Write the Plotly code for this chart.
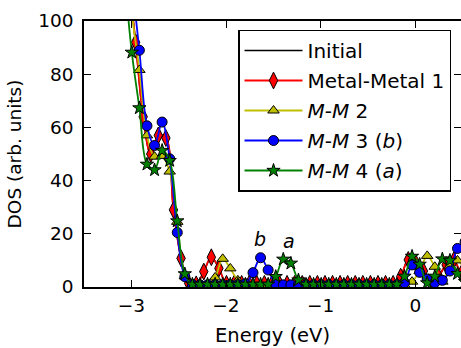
import plotly.graph_objects as go

# ---- data ----
energy = [-3.075, -2.995, -2.915, -2.835, -2.755, -2.675, -2.595, -2.515, -2.435, -2.355,
          -2.275, -2.195, -2.115, -2.035, -1.955, -1.875, -1.795, -1.715, -1.635, -1.555,
          -1.475, -1.395, -1.315, -1.235, -1.155, -1.075, -0.995, -0.915, -0.835, -0.755,
          -0.675, -0.595, -0.515, -0.435, -0.355, -0.275, -0.195, -0.115, -0.035, 0.045,
          0.125, 0.205, 0.285, 0.365, 0.445, 0.525]

energy_mm1 = [-3.035, -2.955, -2.875, -2.795, -2.715, -2.635, -2.555, -2.475, -2.395, -2.315,
              -2.235, -2.155, -2.075, -1.995, -1.915, -1.835, -1.755, -1.675, -1.595, -1.515,
              -1.435, -1.355, -1.275, -1.195, -1.115, -1.035, -0.955, -0.875, -0.795, -0.715,
              -0.635, -0.555, -0.475, -0.395, -0.315, -0.235, -0.155, -0.075, 0.005, 0.085,
              0.165, 0.245, 0.325, 0.405, 0.485, 0.565]

dos_mm1 = [118, 92, 64, 50, 57, 56, 29, 10.8, 1.4, 1.0,
           5.8, 11.2, 7.0, 1.2, 1.2, 1.2, 1.2, 1.2, 1.2, 1.2,
           1.2, 1.2, 1.2, 1.2, 1.2, 1.2, 1.2, 1.2, 1.2, 1.2,
           1.2, 1.2, 1.2, 1.2, 1.2, 1.2, 3.9, 10.2, 9.0, 6.0,
           1.5, 4.0, 8.3, 10.0, 5.0, 3.0]

dos_mm2 = [135, 103, 81.6, 57, 49, 49.3, 43.4, 24.5, 4.0, 1.0,
           0.8, 1.0, 3.6, 10.6, 7.0, 2.5, 0.8, 0.6, 0.6, 0.6,
           0.6, 0.6, 0.6, 0.6, 0.6, 0.6, 0.6, 0.6, 0.6, 0.6,
           0.6, 0.6, 0.6, 0.6, 0.6, 0.6, 0.6, 0.8, 2.0, 6.0,
           11.7, 7.6, 2.0, 8.0, 10.0, 6.0]

dos_mm3 = [140, 115, 89, 60.6, 53.2, 62, 48.2, 20.5, 3.9, 0.9,
           0.8, 0.8, 0.8, 0.8, 0.8, 0.9, 1.2, 5.4, 11.0, 6.4,
           1.2, 0.8, 0.8, 0.8, 0.8, 0.8, 0.8, 0.8, 0.8, 0.8,
           0.8, 0.8, 0.8, 0.8, 0.8, 0.8, 0.8, 1.6, 8.3, 5.5,
           3.0, 1.6, 2.5, 6.0, 14.5, 17.0]

dos_mm4 = [118, 88.2, 67.3, 46.1, 44, 51.3, 47.5, 24.8, 4.9, 1.0,
           1.0, 1.0, 1.0, 1.0, 1.0, 1.0, 1.0, 1.0, 1.0, 1.0,
           3.9, 10.4, 8.9, 2.6, 1.0, 1.0, 1.0, 1.0, 1.0, 1.0,
           1.0, 1.0, 1.0, 1.0, 1.0, 1.0, 1.0, 4.0, 11.5, 8.5,
           1.5, 4.0, 10.5, 10.0, 5.0, 2.0]

series_names = ["Initial", "Metal-Metal 1", "<i>M</i>-<i>M</i> 2",
                "<i>M</i>-<i>M</i> 3 (<i>b</i>)", "<i>M</i>-<i>M</i> 4 (<i>a</i>)"]

label_text = ["<i>b</i>", "<i>a</i>"]
label_energy = [-1.645, -1.335]
label_dos = [18.0, 17.2]

x_ticks = [-3, -2, -1, 0]
y_ticks = [0, 20, 40, 60, 80, 100]

FONT = "DejaVu Sans"

fig = go.Figure()

# Initial (lies underneath Metal-Metal 1)
fig.add_trace(go.Scatter(x=energy_mm1, y=dos_mm1, name=series_names[0], mode="lines",
                         legendgroup="g0",
                         line=dict(color="black", width=1.6, shape="spline")))

styles = [
    (energy_mm1, dos_mm1, "#ff0000", "diamond-tall", 12),
    (energy, dos_mm2, "#bfbf00", "triangle-up", 10),
    (energy, dos_mm3, "#0000ff", "circle", 10),
    (energy, dos_mm4, "#008000", "star", 10),
]
for i, (xs, ys, col, sym, sz) in enumerate(styles):
    fig.add_trace(go.Scatter(
        x=xs, y=ys, name=series_names[i + 1], mode="lines+markers",
        legendgroup="g%d" % (i + 1),
        line=dict(color=col, width=1.8, shape="spline"),
        marker=dict(symbol=sym, size=sz, color=col, line=dict(color="black", width=1)),
    ))

# empty trace for right-hand tick marks
fig.add_trace(go.Scatter(x=[], y=[], yaxis="y2", showlegend=False, hoverinfo="skip"))

for t, xv, yv in zip(label_text, label_energy, label_dos):
    fig.add_annotation(x=xv, y=yv, text=t, showarrow=False, xanchor="center", yanchor="middle",
                       font=dict(family=FONT, size=19, color="black"))

fig.update_layout(
    width=461, height=348,
    margin=dict(l=84, r=0, t=21, b=61, autoexpand=False),
    paper_bgcolor="white", plot_bgcolor="white",
    font=dict(family=FONT, color="black"),
    showlegend=True,
    legend=dict(x=0.4085, y=0.968, xanchor="left", yanchor="top",
                bgcolor="white", bordercolor="black", borderwidth=1.5,
                font=dict(family=FONT, size=20, color="black"),
                itemwidth=58, tracegroupgap=1),
    xaxis=dict(range=[-3.5, 0.482], tickvals=x_ticks, ticks="inside", ticklen=7,
               tickwidth=1, tickcolor="black", showline=True, linecolor="black", linewidth=1.5,
               mirror="ticks", showgrid=False, zeroline=False, automargin=False,
               tickfont=dict(family=FONT, size=18.5, color="black"),
               ticklabelstandoff=1,
               title=dict(text="Energy (eV)", font=dict(family=FONT, size=19.5), standoff=13)),
    yaxis=dict(range=[0, 100], tickvals=y_ticks, ticks="inside", ticklen=7,
               tickwidth=1, tickcolor="black", showline=True, linecolor="black", linewidth=1.5,
               showgrid=False, zeroline=False, automargin=False,
               tickfont=dict(family=FONT, size=18.5, color="black"),
               ticklabelstandoff=5,
               title=dict(text="DOS (arb. units)", font=dict(family=FONT, size=18.5), standoff=12)),
    yaxis2=dict(range=[0, 100], overlaying="y", side="right", tickvals=y_ticks, ticks="inside",
                ticklen=7, tickwidth=1, tickcolor="black", showline=False, showgrid=False,
                zeroline=False, showticklabels=False, automargin=False),
)

fig.write_html("out.html", config={"displayModeBar": False},
               post_script="document.body.style.margin='0';document.body.style.overflow='hidden';")
